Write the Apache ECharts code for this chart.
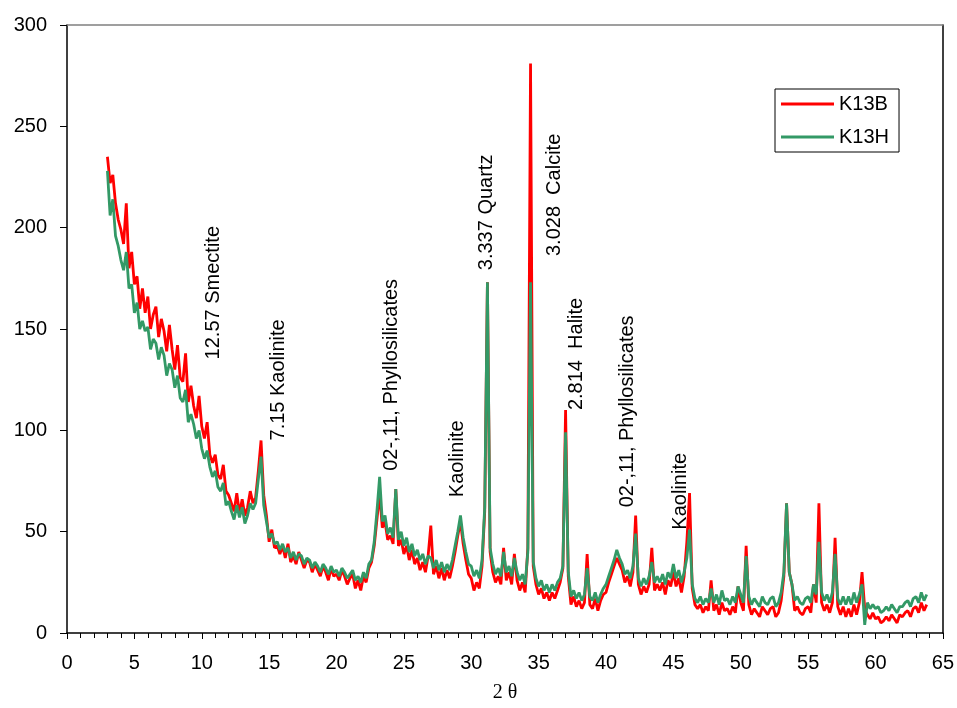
<!DOCTYPE html>
<html><head><meta charset="utf-8">
<script src="https://cdn.jsdelivr.net/npm/echarts@6/dist/echarts.min.js"></script>
<style>html,body{margin:0;padding:0;background:#fff}#c{width:957px;height:708px}</style>
</head><body><div id="c"></div>
<script>
// Sampling grid of the diffractogram (2θ, degrees)
const angleStart = 3.0;
const angleStep = 0.2;

const seriesNames = ['K13B', 'K13H'];
const seriesColors = ['#FF0000', '#339966'];

// K13B intensities (red), one value per 0.2° from 3.0° to 63.8°
const k13b = [
 235,222,226,212,204, 199,192,212,180,188, 172,176,160,170,158, 166,150,157,161,146,
 155,149,139,152,140, 130,142,126,124,138, 114,122,112,106,117, 102,96,104,88,84,
 88,78,76,83,70, 68,64,60,69,59, 66,58,62,70,64, 67,80,95,68,58,
 45,51,42,43,39, 43,37,44,35,38, 34,40,36,32,36, 35,30,34,31,28,
 33,30,26,32,28, 29,26,31,28,24, 27,29,22,26,21, 28,25,32,35,43,
 56,69,52,55,46, 48,44,71,43,46, 39,43,36,41,34, 37,31,35,30,38,
 53,29,33,27,32, 26,31,27,33,40, 48,55,44,36,29, 27,21,25,22,33,
 60,173,40,30,25, 28,24,42,26,30, 24,39,26,21,25, 20,42,281,33,24,
 19,22,17,20,16, 20,17,21,25,32, 110,28,14,18,13, 16,12,15,39,14,
 12,17,11,16,19, 20,25,29,33,37, 34,31,25,28,23, 30,58,24,19,23,
 20,24,42,21,24, 21,25,19,26,23, 30,23,27,20,28, 45,69,22,14,12,
 14,10,13,11,26, 11,14,9,15,11, 12,9,13,10,23, 15,11,43,14,9,
 12,10,8,13,11, 9,12,13,8,10, 16,28,64,30,24, 11,13,10,9,12,
 13,10,24,15,64, 15,11,14,10,15, 47,13,9,13,8, 12,8,14,9,15,
 30,12,9,7,10, 7,8,5,6,8, 6,9,7,5,9, 8,10,11,8,12,
 13,10,15,11,14
];

// K13H intensities (green), same grid
const k13h = [
 228,206,214,196,191, 184,179,188,170,172, 158,163,150,154,149, 151,140,145,143,135,
 141,137,127,133,130, 121,127,116,114,120, 104,108,103,96,100, 91,86,90,82,77,
 80,72,70,74,63, 65,60,56,63,57, 62,54,58,64,61, 64,76,87,63,55,
 47,49,44,45,41, 44,40,42,37,40, 36,39,38,34,37, 36,32,35,33,30,
 34,32,29,33,30, 31,28,32,30,27, 29,31,26,28,25, 30,27,34,36,45,
 60,77,55,58,49, 52,47,71,46,50, 43,47,40,44,38, 41,36,39,34,38,
 37,32,36,31,35, 30,34,31,36,43, 50,58,47,40,34, 33,28,31,27,36,
 62,173,42,34,29, 32,28,40,30,33, 28,37,30,26,29, 24,40,173,35,27,
 23,26,21,24,20, 24,21,25,27,33, 99,30,18,21,17, 20,16,19,32,18,
 16,20,15,19,22, 24,28,32,36,41, 37,34,29,31,27, 33,49,27,23,27,
 24,28,35,25,28, 25,29,24,30,27, 34,27,31,25,30, 37,51,24,17,15,
 18,14,17,15,22, 15,19,14,21,16, 17,14,18,15,23, 19,15,38,18,14,
 17,15,13,18,15, 14,17,18,13,15, 20,30,64,30,24, 16,18,15,14,17,
 18,15,24,19,45, 20,16,19,15,20, 39,17,14,18,14, 18,14,20,15,19,
 24,4,15,12,14, 12,13,10,11,13, 11,14,12,10,13, 13,15,16,13,17,
 18,15,20,16,19
];

// Peak annotations: text and anchor (2θ, intensity) of the start of the vertical text
const annotationTexts = ['12.57 Smectite','7.15 Kaolinite','02-,11, Phyllosilicates','Kaolinite','3.337 Quartz','3.028  Calcite','2.814  Halite','02-,11, Phyllosilicates','Kaolinite'];
const annotationAngles = [10.9, 15.7, 24.1, 29.0, 31.1, 36.2, 37.8, 41.6, 45.5];
const annotationValues = [135, 95, 80, 67, 179, 186, 110, 62, 51];

const xMin = 0, xMax = 65, xInterval = 5;
const yMin = 0, yMax = 300, yInterval = 50;

const FONT = "'Liberation Sans', Arial, sans-serif";
const toPairs = arr => arr.map((v, i) => [Number((angleStart + i * angleStep).toFixed(1)), v]);

const chart = echarts.init(document.getElementById('c'), null, {renderer: 'canvas'});
const option = {
  animation: false,
  backgroundColor: '#fff',
  textStyle: {fontFamily: FONT},
  grid: {left: 67, right: 13, top: 25, bottom: 71, containLabel: false},
  legend: {
    orient: 'vertical', left: 775, top: 89,
    data: seriesNames,
    icon: 'rect', itemWidth: 53, itemHeight: 3, itemGap: 13,
    padding: [5, 10, 5, 6],
    borderColor: '#000', borderWidth: 1,
    textStyle: {fontFamily: FONT, fontSize: 20, color: '#000'}
  },
  xAxis: [{
    type: 'value', min: xMin, max: xMax, interval: xInterval,
    name: '2 θ', nameLocation: 'middle', nameGap: 50,
    nameTextStyle: {fontFamily: "'Liberation Serif', 'Times New Roman', serif", fontSize: 20, color: '#000'},
    axisLine: {show: true, onZero: false, lineStyle: {color: '#000', width: 1.5}},
    axisTick: {show: true, inside: false, length: 6, lineStyle: {color: '#000'}},
    minorTick: {show: true, splitNumber: 5, length: 5, lineStyle: {color: '#000'}},
    axisLabel: {fontFamily: FONT, fontSize: 20, color: '#000', margin: 20},
    splitLine: {show: false}
  }, {
    type: 'value', position: 'top', min: xMin, max: xMax,
    axisLine: {show: true, onZero: false, lineStyle: {color: '#808080', width: 1.5}},
    axisTick: {show: false}, axisLabel: {show: false}, splitLine: {show: false}
  }],
  yAxis: [{
    type: 'value', min: yMin, max: yMax, interval: yInterval,
    axisLine: {show: true, onZero: false, lineStyle: {color: '#000', width: 1.5}},
    axisTick: {show: true, inside: false, length: 7, lineStyle: {color: '#000'}},
    axisLabel: {fontFamily: FONT, fontSize: 20, color: '#000', margin: 20},
    splitLine: {show: false}
  }, {
    type: 'value', position: 'right', min: yMin, max: yMax,
    axisLine: {show: true, onZero: false, lineStyle: {color: '#000', width: 1.5}},
    axisTick: {show: false}, axisLabel: {show: false}, splitLine: {show: false}
  }],
  series: [
    {name: seriesNames[0], type: 'line', data: toPairs(k13b), showSymbol: false, symbol: 'none',
     lineStyle: {color: seriesColors[0], width: 2.8}, itemStyle: {color: seriesColors[0]}, z: 2},
    {name: seriesNames[1], type: 'line', data: toPairs(k13h), showSymbol: false, symbol: 'none',
     lineStyle: {color: seriesColors[1], width: 2.8}, itemStyle: {color: seriesColors[1]}, z: 3}
  ]
};
chart.setOption(option);

const graphics = annotationTexts.map((t, i) => {
  const p = chart.convertToPixel({xAxisIndex: 0, yAxisIndex: 0}, [annotationAngles[i], annotationValues[i]]);
  return {
    type: 'text', x: p[0], y: p[1], rotation: Math.PI / 2, z: 10,
    style: {text: t, fontFamily: FONT, fontSize: 20, fill: '#000', align: 'left', verticalAlign: 'middle'}
  };
});
chart.setOption({graphic: graphics});
</script>
</body></html>
